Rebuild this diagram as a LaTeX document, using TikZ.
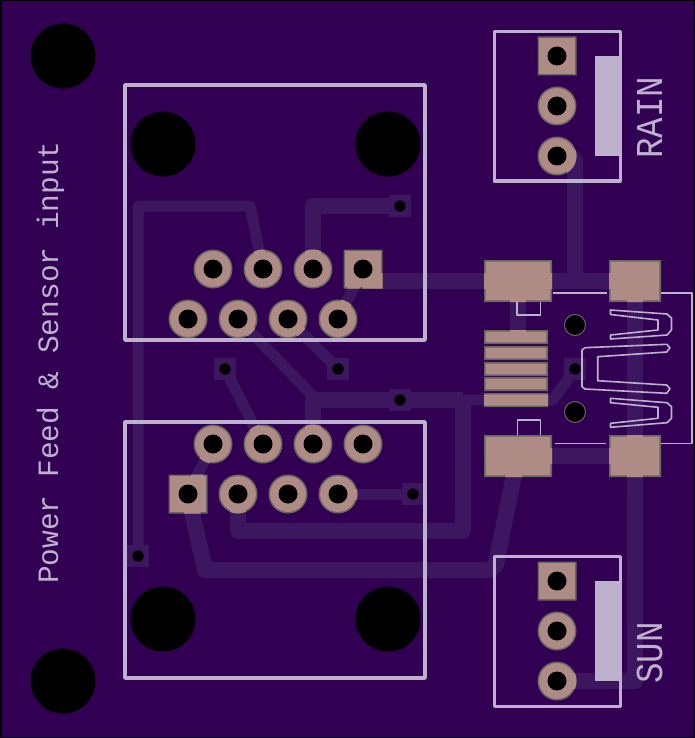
\documentclass[tikz,border=0pt]{standalone}
\usepackage{fontspec}
\setmonofont{Liberation Mono}
\newfontfamily\silkwide[FakeStretch=0.9]{Liberation Mono}
\definecolor{board}{HTML}{320052}
\definecolor{copper}{HTML}{3D1660}
\definecolor{padfill}{HTML}{AE8B85}
\definecolor{padedge}{HTML}{67675F}
\definecolor{silk}{HTML}{BEB1CE}

% #1 is the inset of the shapes from the pad edge
\newcommand{\padshapes}[1]{
  foreach \x/\y in {557/106,557/156,557/631,557/681,
    213/269,263/269,313/269,188/319,238/319,288/319,338/319,
    213/444,263/444,313/444,363/444,238/494,288/494,338/494} {
    (\x,\y) circle ({19.5pt-#1pt})
  }
  foreach \x/\y in {557/56,557/581,363/269,188/494} {
    ({\x-19.5+#1},{\y-19.5+#1}) rectangle ({\x+19.5-#1},{\y+19.5-#1})
  }
  foreach \a/\b/\c/\d in {484/260/552/302,609/260/661/302,484/435/552/477,609/435/661/477,
    484/330/548/344,484/346/548/360,484/362/548/376,484/377/548/391,484/393/548/407} {
    ({\a+#1},{\b+#1}) rectangle ({\c-#1},{\d-#1})
  }
}
\newcommand{\copperruns}[1]{
  \draw[widerun,#1] (400,206) -- (313,206) -- (313,269);
  \draw[widerun,#1] (363,281) -- (635,281);
  \draw[widerun,#1] (557,156) -- (570,156) -- (575,161) -- (575,281);
  \draw[widerun,#1] (518,281) -- (518,337);
  \draw[widerun,#1] (635,281) -- (635,681) -- (557,681);
  \draw[widerun,#1] (518,456) -- (635,456);
  \draw[widerun,#1] (313,444) -- (313,400) -- (463,400);
  \draw[widerun,#1] (238,494) -- (238,531) -- (463,531) -- (463,400);
  \draw[widerun,#1] (188,494) -- (205,570) -- (490,570) -- (496,564) -- (515,470);
  \draw[thinrun,#1] (138,556) -- (138,206) -- (250,206) -- (263,269);
  \draw[thinrun,#1] (363,269) -- (338,319);
  \draw[thinrun,#1] (238,319) -- (313,396);
  \draw[thinrun,#1] (225,369) -- (263,444);
  \draw[thinrun,#1] (338,369) -- (288,319);
  \draw[thinrun,#1] (338,494) -- (413,494);
  \draw[thinrun,#1] (213,444) -- (188,494);
  \draw[thinrun,#1] (463,400) -- (553,400) -- (575,369);
}

\begin{document}
\begin{tikzpicture}[x=1pt,y=-1pt]
  \tikzset{
    widerun/.style={line width=16pt,line join=round},
    thinrun/.style={line width=11pt,line join=round},
    outline/.style={draw=silk,line width=3.5pt,line join=round},
    fineline/.style={draw=silk,line width=1.6pt,line join=round},
    legend/.style={silk,inner sep=0pt,rotate=90,anchor=base west}
  }
  \useasboundingbox (0,0) rectangle (695,738);
  \fill[black] (0,0) rectangle (695,738);
  \fill[board] (1.5,1.5) rectangle (693.5,736.5);

  \copperruns{copper}
  \foreach \x/\y in {400/206,225/369,338/369,400/400,413/494,138/556,575/369} {
    \fill[copper] (\x,\y) ++(-11,-11) rectangle ++(22,22);
  }

  % pads
  \fill[padedge] \padshapes{0};
  \fill[padfill] \padshapes{1.6};
  \begin{scope}
    \clip \padshapes{0};
    \copperruns{padfill}
  \end{scope}

  % holes
  \foreach \x/\y in {63/56,63/681,163/144,388/144,163/619,388/619} {
    \fill[black] (\x,\y) circle (32.5pt);
  }
  \foreach \x/\y in {557/56,557/106,557/156,557/581,557/631,557/681,
    213/269,263/269,313/269,363/269,188/319,238/319,288/319,338/319,
    213/444,263/444,313/444,363/444,188/494,238/494,288/494,338/494} {
    \fill[black] (\x,\y) circle (9.5pt);
  }
  \foreach \x/\y in {400/206,225/369,338/369,400/400,413/494,138/556,575/369} {
    \fill[black] (\x,\y) circle (5.7pt);
  }
  \foreach \y in {325,412} {
    \fill[black,draw=padedge,line width=1pt] (575,\y) circle (10.5pt);
  }

  % silkscreen
  \draw[outline] (125,85) rectangle (425,340);
  \draw[outline] (125,422) rectangle (425,678);
  \draw[outline,line width=3pt] (494,32) rectangle (620,181);
  \draw[outline,line width=3pt] (494,556) rectangle (620,706);
  \fill[silk] (595,56) rectangle (619,156);
  \fill[silk] (595,581) rectangle (619,681);

  \draw[fineline] (553,293) -- (607,293);
  \draw[fineline] (555,443.5) -- (606,443.5);
  \draw[fineline] (661,293) -- (692,293) -- (692,443.5) -- (661,443.5);
  \draw[fineline] (517,302) -- (517,315) -- (540.5,315) -- (540.5,302);
  \draw[fineline] (517.5,435) -- (517.5,420) -- (540.5,420) -- (540.5,435);
  \draw[fineline] (610.5,310) -- (667,314) -- (671.5,318) -- (671.5,330) -- (667,335)
    -- (610.5,339) -- (610.5,335) -- (658,330) -- (658,320) -- (610.5,314.5) -- cycle;
  \draw[fineline] (610.5,398.3) -- (667,402.7) -- (671.5,406.7) -- (671.5,418.3) -- (667,422.7)
    -- (610.5,427.3) -- (610.5,423.3) -- (658,418.3) -- (658,407.3) -- (610.5,402.7) -- cycle;
  \draw[fineline] (585,347.7) -- (666.7,344.3) -- (670,347.7) -- (666.7,352) -- (597.7,356.7)
    -- (597.7,380.7) -- (666.7,385) -- (670,388.7) -- (666.7,393.3) -- (585,389)
    -- (582,386.7) -- (582,350) -- cycle;

  \node[legend,font=\ttfamily\fontsize{29.5pt}{30pt}\selectfont] (boardname) at (58,584) {Power Feed \& Sensor input};
  \node[legend,font=\silkwide\fontsize{38pt}{38pt}\selectfont] (rainname) at (662,159) {RAIN};
  \node[legend,font=\silkwide\fontsize{38pt}{38pt}\selectfont] (sunname) at (662,684) {SUN};
\end{tikzpicture}
\end{document}
